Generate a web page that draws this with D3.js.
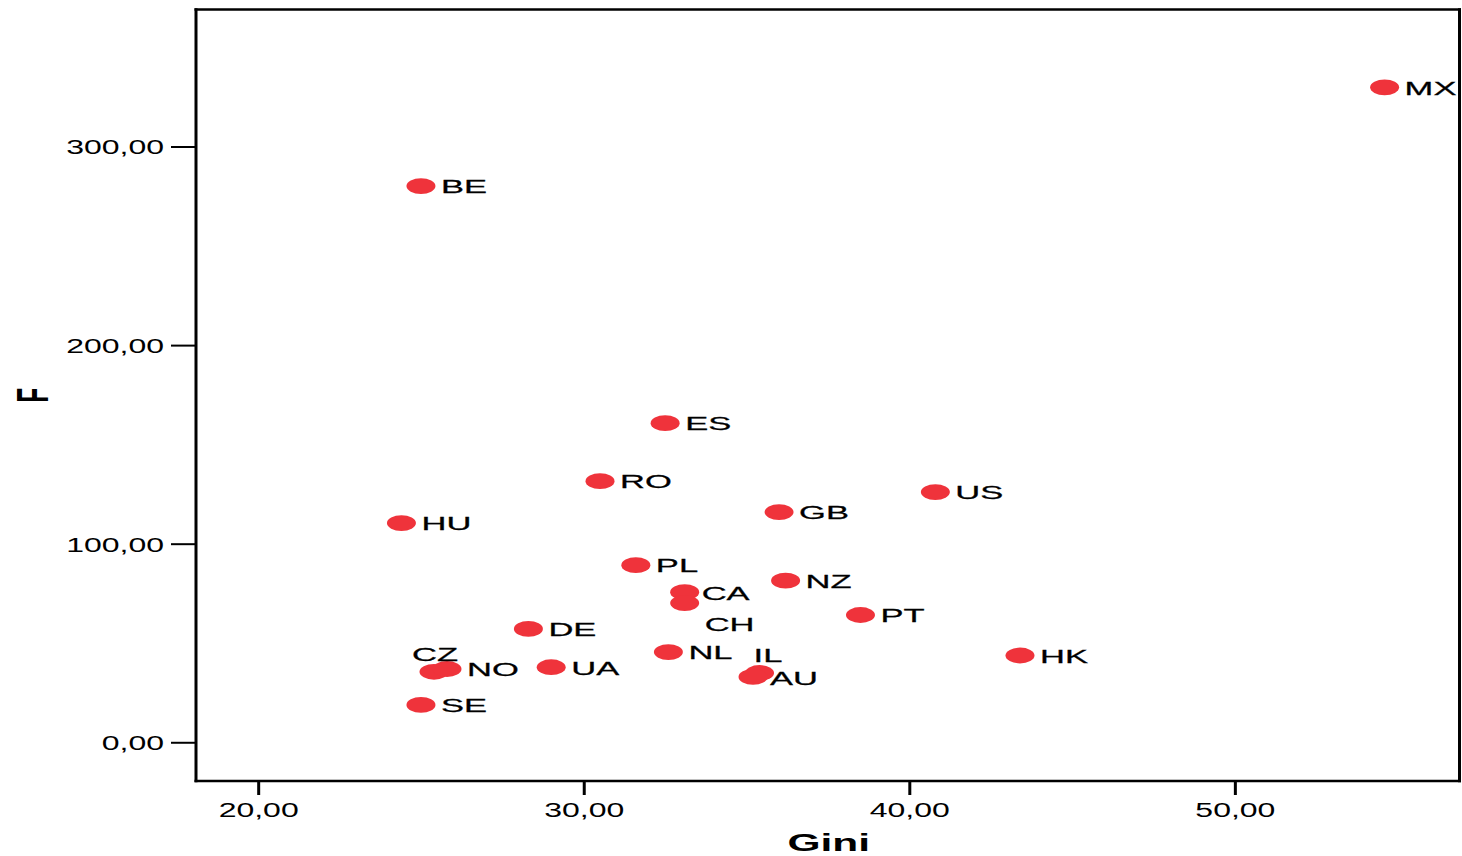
<!DOCTYPE html>
<html>
<head>
<meta charset="utf-8">
<script src="https://cdn.jsdelivr.net/npm/d3@7"></script>
<style>
  html, body { margin: 0; padding: 0; background: #fff; }
  svg { display: block; }
  text { font-family: "Liberation Sans", Arial, sans-serif; fill: #000; }
</style>
</head>
<body>
<svg id="chart" width="1462" height="856"></svg>
<script>
// Country codes with Gini index and F score
const countries = ["MX","BE","ES","RO","US","HU","GB","PL","NZ","CA","CH","PT","DE","NL","HK","IL","AU","UA","CZ","NO","SE"];
const gini      = [54.6, 25.0, 32.5, 30.5, 40.8, 24.4, 36.0, 31.6, 36.2, 33.1, 33.1, 38.5, 28.3, 32.6, 43.4, 35.4, 35.2, 29.0, 25.4, 25.8, 25.0];
const fScore    = [329.8, 280.1, 160.7, 131.5, 126.0, 110.4, 115.9, 89.2, 81.4, 75.6, 70.1, 64.1, 57.1, 45.4, 43.7, 34.9, 32.9, 37.8, 35.5, 36.9, 18.8];

const xTicks = [20, 30, 40, 50];
const yTicks = [0, 100, 200, 300];
const xTitle = "Gini";
const yTitle = "F";

// Labels that sit away from the default right-hand spot (dx, dy in px)
const labelNudge = { CH: [0, 20.5], CZ: [-42, -18], IL: [-26, -18.5], AU: [-3, 1], CA: [-3, 1] };

const svg = d3.select("#chart");
const W = 1462, H = 856;
svg.append("rect").attr("width", W).attr("height", H).attr("fill", "#fff");

const plot = { left: 196, right: 1459.5, top: 9.5, bottom: 781 };

const x = d3.scaleLinear().domain([18.09, 56.9]).range([plot.left, plot.right]);
const y = d3.scaleLinear().domain([-19.5, 369.0]).range([plot.bottom, plot.top]);

const locale = d3.formatLocale({ decimal: ",", thousands: ".", grouping: [3], currency: ["", ""] });
const fmt = locale.format(".2f");

// Wide, horizontally stretched lettering
const SX_TICK = 1.6, SX_LABEL = 1.92, SX_TITLE = 1.77;

// Y axis
const yAxis = svg.append("g")
  .attr("transform", `translate(${plot.left},0)`)
  .call(d3.axisLeft(y).tickValues(yTicks).tickSize(25).tickFormat(fmt));
yAxis.select(".domain").remove();
yAxis.selectAll(".tick line").attr("stroke", "#000").attr("stroke-width", 2);
yAxis.selectAll(".tick text")
  .attr("x", null).attr("dy", null).attr("y", 0)
  .attr("text-anchor", "end")
  .attr("font-size", 20)
  .attr("font-family", "Liberation Sans, Arial, sans-serif")
  .attr("transform", `translate(-32,7.4) scale(${SX_TICK},1)`);

// X axis
const xAxis = svg.append("g")
  .attr("transform", `translate(0,${plot.bottom})`)
  .call(d3.axisBottom(x).tickValues(xTicks).tickSize(14).tickFormat(fmt));
xAxis.select(".domain").remove();
xAxis.selectAll(".tick line").attr("stroke", "#000").attr("stroke-width", 3);
xAxis.selectAll(".tick text")
  .attr("y", 0).attr("dy", null)
  .attr("text-anchor", "middle")
  .attr("font-size", 20)
  .attr("font-family", "Liberation Sans, Arial, sans-serif")
  .attr("transform", `translate(0,36) scale(${SX_TICK},1)`);

// Frame around the plot area
const frame = svg.append("g").attr("stroke", "#000").attr("fill", "none");
frame.append("line").attr("x1", plot.left).attr("x2", plot.left).attr("y1", plot.top - 1.2).attr("y2", plot.bottom + 1.2).attr("stroke-width", 3);
frame.append("line").attr("x1", plot.right).attr("x2", plot.right).attr("y1", plot.top - 1.2).attr("y2", plot.bottom + 1.2).attr("stroke-width", 3);
frame.append("line").attr("x1", plot.left - 1.5).attr("x2", plot.right + 1.5).attr("y1", plot.top).attr("y2", plot.top).attr("stroke-width", 2.5);
frame.append("line").attr("x1", plot.left - 1.5).attr("x2", plot.right + 1.5).attr("y1", plot.bottom).attr("y2", plot.bottom).attr("stroke-width", 2.5);

// Axis titles
svg.append("text")
  .attr("text-anchor", "middle")
  .attr("font-size", 24).attr("font-weight", "bold")
  .attr("transform", `translate(${(plot.left + plot.right) / 2 + 1},851) scale(${SX_TITLE},1)`)
  .text(xTitle);
svg.append("text")
  .attr("text-anchor", "middle")
  .attr("font-size", 24).attr("font-weight", "bold")
  .attr("transform", `translate(48,${(plot.top + plot.bottom) / 2}) scale(1.85,1) rotate(-90)`)
  .text(yTitle);

// Points
const data = countries.map((c, i) => ({ code: c, gini: gini[i], f: fScore[i] }));

svg.append("g").selectAll("ellipse")
  .data(data).join("ellipse")
  .attr("cx", d => x(d.gini))
  .attr("cy", d => y(d.f))
  .attr("rx", 14.5).attr("ry", 7.9)
  .attr("fill", "#ef333b");

svg.append("g").selectAll("text")
  .data(data).join("text")
  .attr("font-size", 18)
  .attr("stroke", "#000").attr("stroke-width", 0.25)
  .attr("transform", d => {
    const n = labelNudge[d.code] || [0, 0];
    return `translate(${x(d.gini) + 20 + n[0]},${y(d.f) + 7.3 + n[1]}) scale(${SX_LABEL},1)`;
  })
  .text(d => d.code);
</script>
</body>
</html>
